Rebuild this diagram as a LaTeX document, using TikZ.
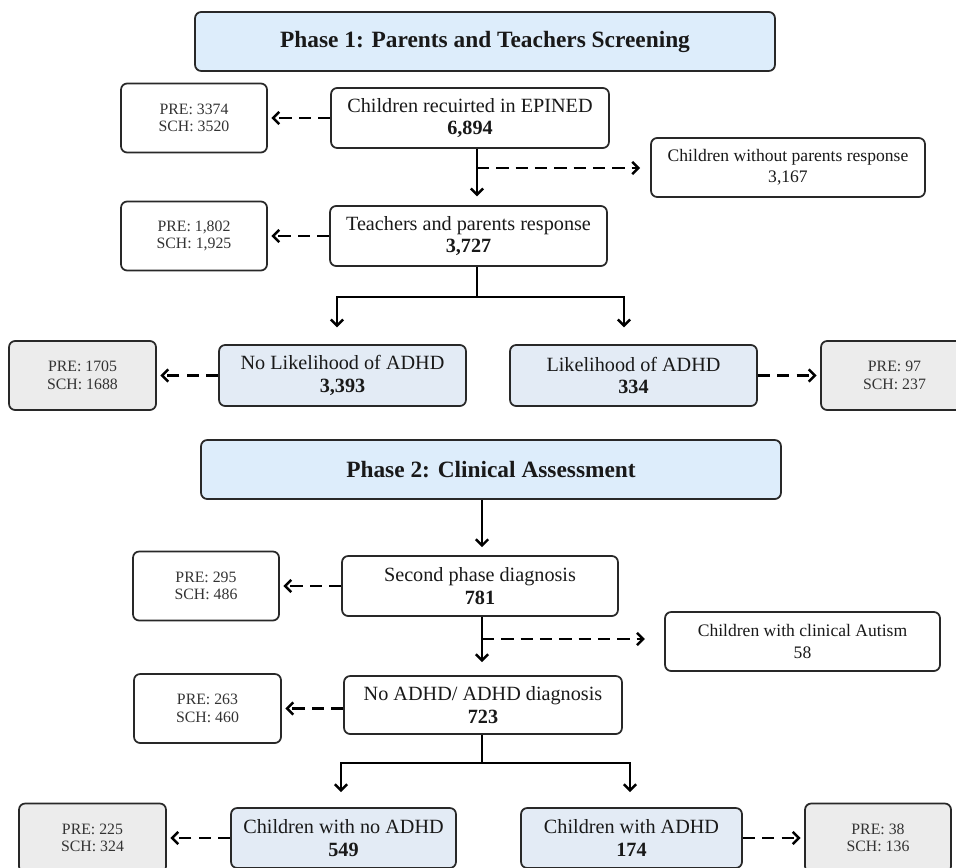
\documentclass[tikz,border=0pt]{standalone}
\usepackage{fontspec}
\setmainfont{Liberation Serif}
\usetikzlibrary{arrows.meta, positioning, calc}
\definecolor{phaseblue}{RGB}{221,237,251}
\definecolor{resultblue}{RGB}{227,235,245}
\definecolor{sidegray}{RGB}{236,236,236}
\definecolor{boxline}{RGB}{40,40,40}
\definecolor{inktext}{RGB}{25,25,25}
\tikzset{
    box/.style = {draw=boxline, line width=1pt, rounded corners=3.5pt, align=center, inner sep=2pt, text=inktext},
    phase/.style = {box, fill=phaseblue, minimum width=11.6cm, minimum height=1.18cm, font=\fontsize{13.3}{15}\selectfont\bfseries},
    stage/.style = {box, fill=white, minimum width=5.56cm, minimum height=1.2cm, font=\fontsize{11.5}{13}\selectfont},
    result/.style = {stage, fill=resultblue, minimum height=1.22cm},
    excluded/.style = {box, fill=white, minimum width=5.5cm, minimum height=1.18cm, font=\fontsize{10}{12}\selectfont},
    split/.style = {box, fill=white, minimum width=2.92cm, minimum height=1.38cm, font=\fontsize{9}{10}\selectfont, text=black!80},
    splitgray/.style = {split, fill=sidegray},
    trunk/.style = {line width=1.4pt},
    flow/.style = {trunk, -{Straight Barb[length=3.5pt,width=7pt]}},
    sidearrow/.style = {flow, dash pattern=on 7pt off 4pt, shorten >=2pt}
}
\begin{document}
\begin{tikzpicture}[x=0.02cm, y=-0.02cm]
  \useasboundingbox (0,0) rectangle (956,868);
  \clip (0,0) rectangle (956,868);

  \node[phase] (ph1) at (485,41.5) {Phase 1: Parents and Teachers Screening};
  \node[stage] (recruit) at (470,118) {Children recuirted in EPINED\\\textbf{6,894}};
  \node[split] (pre1) at (194,118) {PRE: 3374\\SCH: 3520};
  \node[excluded, minimum width=5.48cm] (noresp) at (788,167.5) {Children without parents response\\3,167};
  \node[stage, minimum width=5.54cm] (resp) at (468.5,236) {Teachers and parents response\\\textbf{3,727}};
  \node[split] (pre2) at (194,236) {PRE: 1,802\\SCH: 1,925};
  \node[result, minimum width=4.94cm] (nolik) at (342.5,375.5) {No Likelihood of ADHD\\\textbf{3,393}};
  \node[splitgray, minimum width=2.94cm] (prenolik) at (82.5,375.5) {PRE: 1705\\SCH: 1688};
  \node[result, minimum width=4.94cm] (lik) at (633.5,375.5) {Likelihood of ADHD\\\textbf{334}};
  \node[splitgray, minimum width=2.94cm] (prelik) at (894.5,375.5) {PRE: 97\\SCH: 237};

  \node[phase] (ph2) at (491,469.5) {Phase 2: Clinical Assessment};
  \node[stage, minimum width=5.52cm] (second) at (480,586) {Second phase diagnosis\\\textbf{781}};
  \node[split] (pre3) at (206,586) {PRE: 295\\SCH: 486};
  \node[excluded] (autism) at (802.5,641.5) {Children with clinical Autism\\58};
  \node[stage, minimum height=1.16cm] (diag) at (483,705) {No ADHD/ ADHD diagnosis\\\textbf{723}};
  \node[split, minimum width=2.94cm] (pre4) at (207.5,708.5) {PRE: 263\\SCH: 460};
  \node[result, minimum width=4.5cm, minimum height=1.2cm] (noadhd) at (343.5,838) {Children with no ADHD\\\textbf{549}};
  \node[splitgray, minimum width=2.94cm] (prenoadhd) at (92.5,838) {PRE: 225\\SCH: 324};
  \node[result, minimum width=4.42cm, minimum height=1.2cm] (adhd) at (631.5,838) {Children with ADHD\\\textbf{174}};
  \node[splitgray] (preadhd) at (878,838) {PRE: 38\\SCH: 136};

  \coordinate (k1) at (477,168);
  \coordinate (s1) at (477,297);
  \coordinate (s1l) at (337,297);
  \coordinate (s1r) at (624,297);
  \coordinate (k2) at (482,639);
  \coordinate (s2) at (482,763);
  \coordinate (s2l) at (341,763);
  \coordinate (s2r) at (630,763);

  \draw[flow, shorten >=5pt] (recruit.south -| k1) -- (resp.north -| k1);
  \draw[sidearrow, shorten >=5.7pt] (k1) -- (noresp.west |- k1);
  \draw[sidearrow] (recruit.west) -- (pre1.east);
  \draw[sidearrow] (resp.west) -- (pre2.east);
  \draw[flow, shorten >=9.5pt] (resp.south -| s1) -- (s1) -| (nolik.north -| s1l);
  \draw[flow, shorten >=9.5pt] (s1) -| (lik.north -| s1r);
  \draw[sidearrow] (nolik.west) -- (prenolik.east);
  \draw[sidearrow] (lik.east) -- (prelik.west);

  \draw[flow, shorten >=4.5pt] (ph2.south -| k2) -- (second.north -| k2);
  \draw[sidearrow] (second.west) -- (pre3.east);
  \draw[flow, shorten >=7.4pt] (second.south -| k2) -- (diag.north -| k2);
  \draw[sidearrow, shorten >=11pt] (k2) -- (autism.west |- k2);
  \draw[sidearrow] (diag.west |- pre4.east) -- (pre4.east);
  \draw[flow, shorten >=8.5pt] (diag.south -| s2) -- (s2) -| (noadhd.north -| s2l);
  \draw[flow, shorten >=8.5pt] (s2) -| (adhd.north -| s2r);
  \draw[sidearrow] (noadhd.west) -- (prenoadhd.east);
  \draw[sidearrow] (adhd.east) -- (preadhd.west);
\end{tikzpicture}
\end{document}
